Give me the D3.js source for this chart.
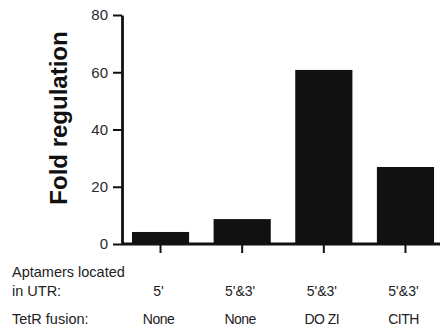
<!DOCTYPE html>
<html>
<head>
<meta charset="utf-8">
<script src="https://cdn.jsdelivr.net/npm/d3@7"></script>
<style>
  html, body { margin: 0; padding: 0; background: #fff; }
  svg { display: block; font-family: "Liberation Sans", Arial, sans-serif; }
</style>
</head>
<body>
<svg id="chart" width="440" height="330"></svg>
<script>
// Fold regulation for each aptamer / TetR construct
const aptamerSites = ["5'", "5'&3'", "5'&3'", "5'&3'"];
const tetRFusions = ["None", "None", "DO ZI", "CITH"];
const foldValues = [4.2, 8.7, 60.8, 26.9];
const yTicks = [0, 20, 40, 60, 80];

const svg = d3.select("#chart");
const plotLeft = 122, plotRight = 440, plotTop = 15, plotBottom = 244;

const x = d3.scaleBand()
  .domain(d3.range(foldValues.length))
  .range([plotLeft, 444])
  .paddingInner(0.3)
  .paddingOuter(0.122);

const y = d3.scaleLinear().domain([0, 80]).range([plotBottom, plotTop]);

// bars
svg.append("g").selectAll("rect")
  .data(foldValues)
  .join("rect")
  .attr("x", (d, i) => x(i))
  .attr("width", x.bandwidth())
  .attr("y", d => y(d))
  .attr("height", d => y(0) - y(d))
  .attr("fill", "#111");

// y axis
const yAxis = svg.append("g")
  .attr("transform", `translate(${plotLeft},0)`)
  .call(d3.axisLeft(y).tickValues(yTicks).tickSize(9).tickPadding(5).tickSizeOuter(0));
yAxis.select(".domain").attr("stroke", "#111").attr("stroke-width", 2.8);
yAxis.selectAll(".tick line").attr("stroke", "#111").attr("stroke-width", 2);
yAxis.selectAll(".tick text")
  .attr("font-size", 15).attr("fill", "#2a2a2a")
  .attr("font-family", "'Liberation Sans', Arial, sans-serif");

// x axis with ticks beneath each bar
const xAxis = svg.append("g")
  .attr("transform", `translate(0,${plotBottom})`)
  .call(d3.axisBottom(x).tickSize(9).tickSizeOuter(0).tickFormat(""));
xAxis.select(".domain").remove();
xAxis.selectAll(".tick line").attr("stroke", "#111").attr("stroke-width", 2);
svg.append("line")
  .attr("x1", plotLeft).attr("x2", plotRight)
  .attr("y1", plotBottom).attr("y2", plotBottom)
  .attr("stroke", "#111").attr("stroke-width", 2.8);

// y axis title
svg.append("text")
  .attr("transform", `translate(67,118) rotate(-90)`)
  .attr("text-anchor", "middle")
  .attr("font-size", 24)
  .attr("font-weight", "bold")
  .attr("fill", "#111")
  .text("Fold regulation");

// row headers
const rowHead = svg.append("g").attr("font-size", 14.5).attr("fill", "#222");
rowHead.append("text").attr("x", 12).attr("y", 277).text("Aptamers located");
rowHead.append("text").attr("x", 12).attr("y", 296).text("in UTR:");
rowHead.append("text").attr("x", 12).attr("y", 324).text("TetR fusion:");

// per-bar category labels
const center = i => x(i) + x.bandwidth() / 2 - 2;
svg.append("g").attr("font-size", 14).attr("fill", "#222").attr("text-anchor", "middle")
  .selectAll("text").data(aptamerSites).join("text")
  .attr("x", (d, i) => center(i)).attr("y", 296).text(d => d);
svg.append("g").attr("font-size", 14).attr("fill", "#222").attr("text-anchor", "middle")
  .attr("letter-spacing", -0.5)
  .selectAll("text").data(tetRFusions).join("text")
  .attr("x", (d, i) => center(i)).attr("y", 324).text(d => d);
</script>
</body>
</html>
